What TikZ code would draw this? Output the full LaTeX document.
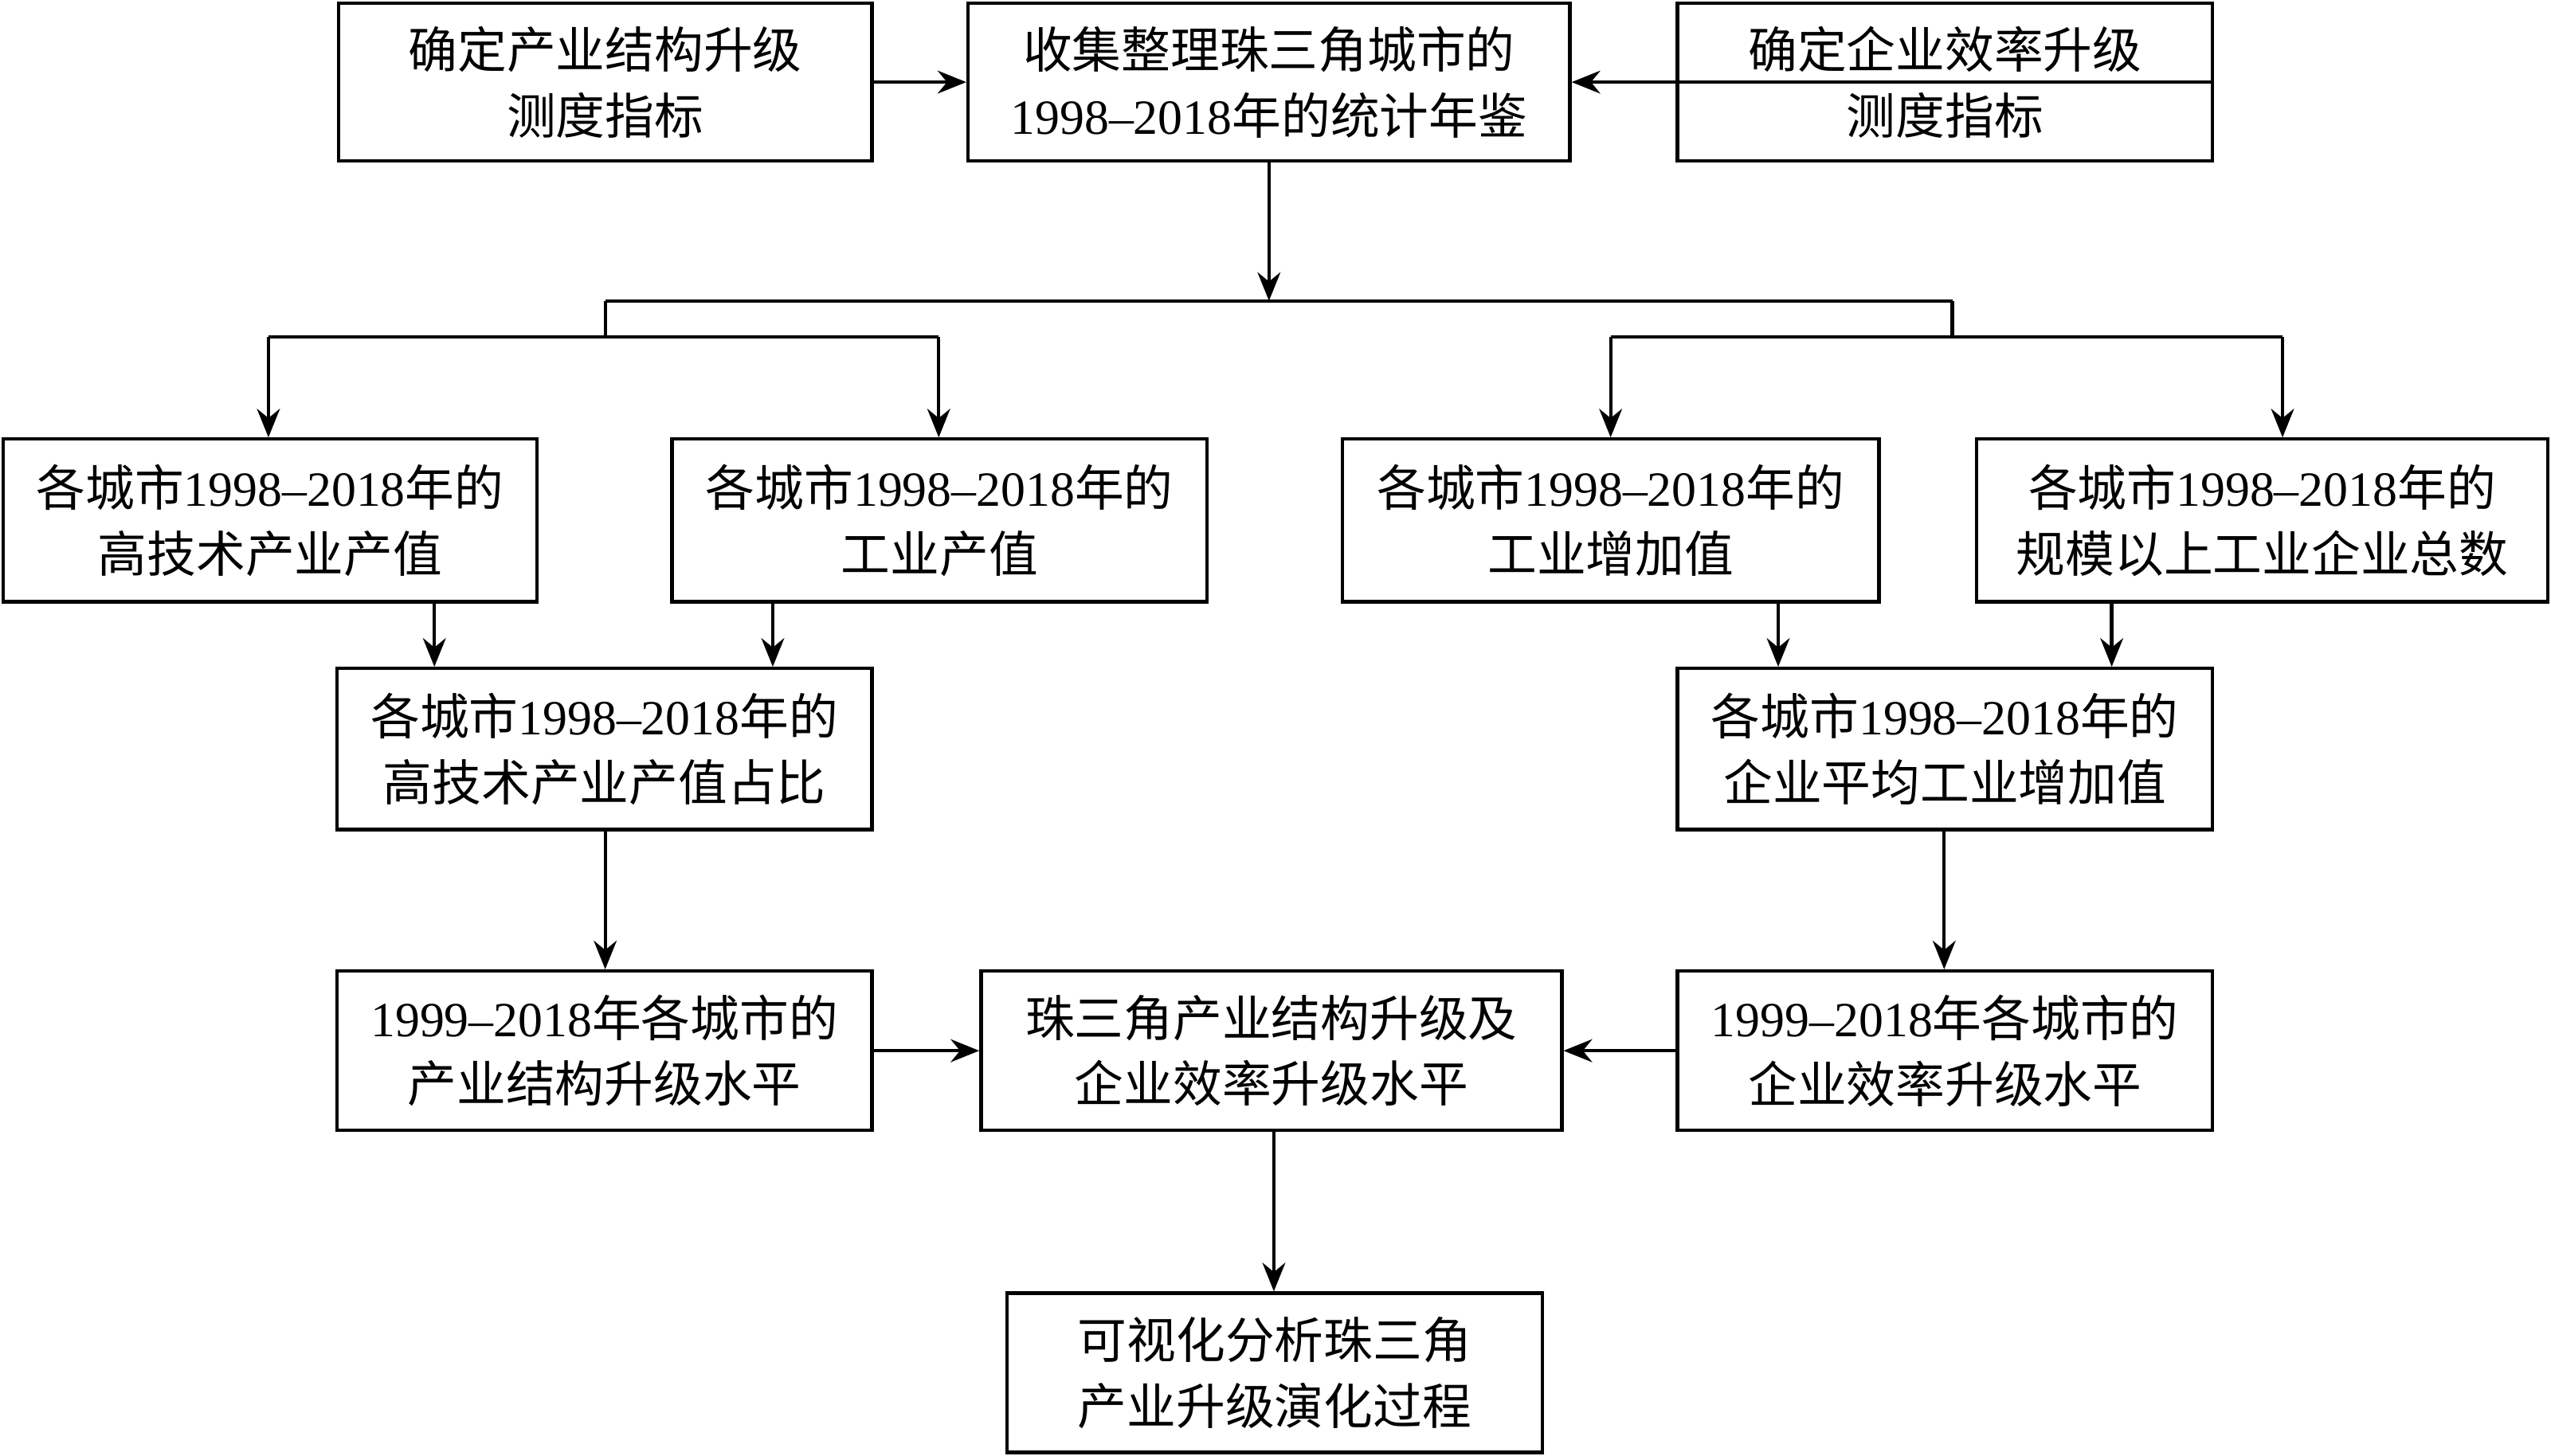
\documentclass[tikz,border=0pt]{standalone}
\usepackage{fontspec}
\setmainfont{Noto Sans CJK SC}
\newfontfamily\numf{Liberation Serif}
\newcommand{\nn}[1]{{\numf #1}}
\usetikzlibrary{arrows.meta}
\begin{document}
\begin{tikzpicture}[x=0.01cm,y=-0.01cm,
  box/.style={draw,line width=0.6pt,align=center,inner sep=0pt,font=\fontsize{8.6pt}{11.5pt}\selectfont},
  arr/.style={-{Stealth[length=5pt,width=4pt]},line width=0.6pt},
  ln/.style={line width=0.6pt}]
\useasboundingbox (0,0) rectangle (1568,895);
\newcommand{\bx}[6]{\node[box,minimum width={(#4-#2)*0.01cm},minimum height={(#5-#3)*0.01cm}] (#1) at ({(#2+#4)/2},{(#3+#5)/2}) {#6};}
\bx{n1}{208}{2}{536}{99}{确定产业结构升级\\测度指标}
\bx{n2}{595}{2}{965}{99}{收集整理珠三角城市的\\\nn{1998–2018}年的统计年鉴}
\bx{n3}{1031}{2}{1360}{99}{确定企业效率升级\\测度指标}
\bx{a}{2}{270}{330}{370}{各城市\nn{1998–2018}年的\\高技术产业产值}
\bx{b}{413}{270}{742}{370}{各城市\nn{1998–2018}年的\\工业产值}
\bx{c}{825}{270}{1155}{370}{各城市\nn{1998–2018}年的\\工业增加值}
\bx{d}{1215}{270}{1566}{370}{各城市\nn{1998–2018}年的\\规模以上工业企业总数}
\bx{e}{207}{411}{536}{510}{各城市\nn{1998–2018}年的\\高技术产业产值占比}
\bx{f}{1031}{411}{1360}{510}{各城市\nn{1998–2018}年的\\企业平均工业增加值}
\bx{g}{207}{597}{536}{695}{\nn{1999–2018}年各城市的\\产业结构升级水平}
\bx{h}{603}{597}{960}{695}{珠三角产业结构升级及\\企业效率升级水平}
\bx{i}{1031}{597}{1360}{695}{\nn{1999–2018}年各城市的\\企业效率升级水平}
\bx{j}{619}{795}{948}{893}{可视化分析珠三角\\产业升级演化过程}
\draw[arr] (n1.east) -- (n2.west);
\draw[arr] (n3.east) -- (n2.west-|n2.east);
\coordinate (m) at (780,185);
\draw[arr] (n2.south-|m) -- (m);
\draw[ln] (372,185) -- (1200,185);
\draw[ln] (372,185) -- (372,207) (1200,185) -- (1200,207);
\draw[ln] (165,207) -- (577,207) (990,207) -- (1403,207);
\draw[arr] (165,207) -- (a.north-|165,0);
\draw[arr] (577,207) -- (b.north-|577,0);
\draw[arr] (990,207) -- (c.north-|990,0);
\draw[arr] (1403,207) -- (d.north-|1403,0);
\draw[arr] (a.south-|267,0) -- (e.north-|267,0);
\draw[arr] (b.south-|475,0) -- (e.north-|475,0);
\draw[arr] (c.south-|1093,0) -- (f.north-|1093,0);
\draw[arr] (d.south-|1298,0) -- (f.north-|1298,0);
\draw[arr] (e.south-|372,0) -- (g.north-|372,0);
\draw[arr] (f.south-|1195,0) -- (i.north-|1195,0);
\draw[arr] (g.east) -- (h.west);
\draw[arr] (i.west) -- (h.east);
\draw[arr] (h.south-|783,0) -- (j.north-|783,0);
\end{tikzpicture}
\end{document}
